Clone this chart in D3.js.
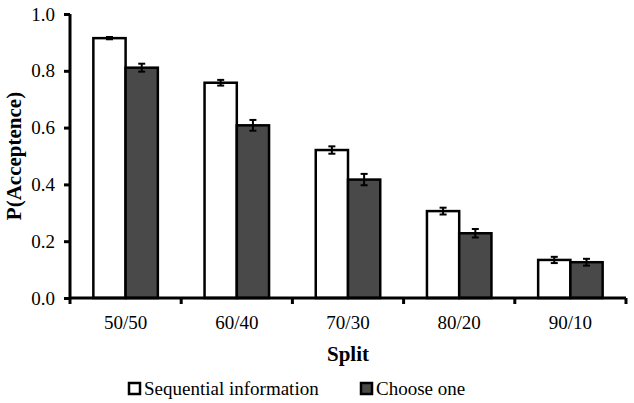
<!DOCTYPE html>
<html>
<head>
<meta charset="utf-8">
<script src="https://cdn.jsdelivr.net/npm/d3@7"></script>
</head>
<body style="margin:0;background:#fff">
<svg id="chart" width="634" height="403" style="display:block"></svg>
<script>
const categories = ["50/50","60/40","70/30","80/20","90/10"];
const seriesNames = ["Sequential information","Choose one"];
const sequential = [0.915,0.758,0.521,0.306,0.134];
const sequentialErr = [0.004,0.010,0.013,0.012,0.011];
const chooseOne = [0.811,0.608,0.417,0.228,0.126];
const chooseOneErr = [0.014,0.019,0.020,0.015,0.012];
const yTicks = [0,0.2,0.4,0.6,0.8,1.0];
const colors = ["#ffffff","#494949"];

(function(){
const FONT = "Liberation Serif";
const svg = d3.select("#chart").attr("font-family", FONT);
const mLeft = 70, mRight = 626, mTop = 14, mBottom = 298;

const x0 = d3.scaleBand().domain(categories).range([mLeft,mRight]).paddingInner(0.42).paddingOuter(0.21);
const x1 = d3.scaleBand().domain(seriesNames).range([0,x0.bandwidth()]);
const y = d3.scaleLinear().domain([0,1]).range([mBottom,mTop]);

const values = [sequential, chooseOne];
const errs = [sequentialErr, chooseOneErr];
const data = [];
categories.forEach((c,i)=>{
  seriesNames.forEach((s,j)=>{
    data.push({c, s, j, v: values[j][i], e: errs[j][i]});
  });
});

// bars
svg.append("g").selectAll("rect").data(data).join("rect")
  .attr("x", d=>x0(d.c)+x1(d.s))
  .attr("y", d=>y(d.v))
  .attr("width", x1.bandwidth())
  .attr("height", d=>y(0)-y(d.v))
  .attr("fill", d=>colors[d.j])
  .attr("stroke","#000")
  .attr("stroke-width",2.5);

// error bars
const eg = svg.append("g").attr("stroke","#000").attr("stroke-width",2);
data.forEach(d=>{
  const cx = x0(d.c)+x1(d.s)+x1.bandwidth()/2;
  eg.append("line").attr("x1",cx).attr("x2",cx).attr("y1",y(d.v+d.e)).attr("y2",y(d.v-d.e));
  eg.append("line").attr("x1",cx-3.5).attr("x2",cx+3.5).attr("y1",y(d.v+d.e)).attr("y2",y(d.v+d.e));
  eg.append("line").attr("x1",cx-3.5).attr("x2",cx+3.5).attr("y1",y(d.v-d.e)).attr("y2",y(d.v-d.e));
});

// y axis
const yAxis = d3.axisLeft(y).tickValues(yTicks).tickFormat(d3.format(".1f")).tickSize(6).tickPadding(9);
const ya = svg.append("g").attr("transform",`translate(${mLeft},0)`).call(yAxis)
  .attr("font-family", FONT).attr("font-size", 19);
ya.select(".domain").attr("stroke","#000").attr("stroke-width",3).attr("d",`M0,${mTop}V${mBottom}`);
ya.selectAll(".tick line").attr("stroke","#000").attr("stroke-width",3);
ya.selectAll(".tick text").attr("fill","#000").attr("font-family",FONT).attr("font-size",19);

// x axis
const step = x0.step();
const outer = x0.paddingOuter()*step;
const boundaries = categories.map(c=>x0(c)-outer).concat([mRight]);
const xa = svg.append("g");
xa.append("line").attr("x1",mLeft).attr("x2",mRight).attr("y1",mBottom).attr("y2",mBottom)
  .attr("stroke","#000").attr("stroke-width",3);
xa.selectAll("line.tk").data(boundaries).join("line").attr("class","tk")
  .attr("x1",d=>d).attr("x2",d=>d).attr("y1",mBottom).attr("y2",mBottom+6)
  .attr("stroke","#000").attr("stroke-width",3);
xa.selectAll("text").data(categories).join("text")
  .attr("x",d=>x0(d)+x0.bandwidth()/2).attr("y",329)
  .attr("font-family",FONT).attr("text-anchor","middle").attr("font-size",19).text(d=>d);

// axis titles
svg.append("text").attr("x",(mLeft+mRight)/2).attr("y",361).attr("text-anchor","middle")
  .attr("font-family",FONT).attr("font-size",21).attr("font-weight","bold").text("Split");
svg.append("text").attr("transform","translate(21,156) rotate(-90)").attr("text-anchor","middle")
  .attr("font-family",FONT).attr("font-size",21).attr("font-weight","bold").text("P(Acceptence)");

// legend
const legendX = [128, 360];
seriesNames.forEach((s,j)=>{
  const g = svg.append("g").attr("transform",`translate(${legendX[j]},383)`);
  g.append("rect").attr("x",1).attr("y",0).attr("width",11).attr("height",11)
    .attr("fill",colors[j]).attr("stroke","#000").attr("stroke-width",2.5);
  g.append("text").attr("x",16).attr("y",12).attr("font-family",FONT).attr("font-size",19).text(s);
});
})();
</script>
</body>
</html>
